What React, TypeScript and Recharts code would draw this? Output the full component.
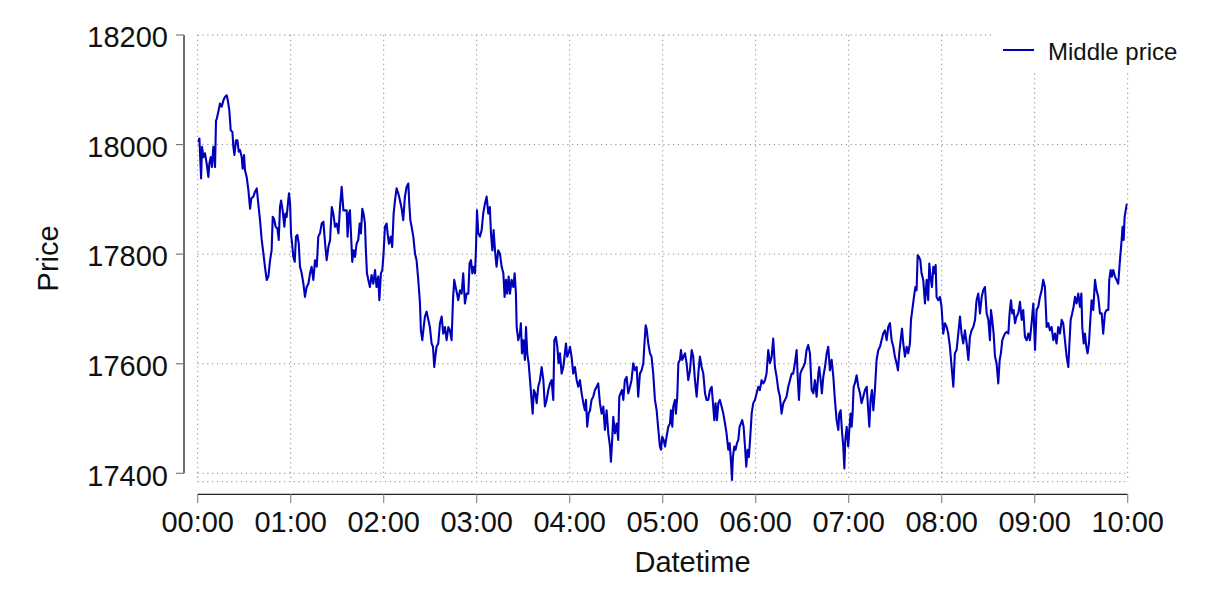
import React from 'react';
import { LineChart, Line, XAxis, YAxis, CartesianGrid, ReferenceLine, Legend, Label } from 'recharts';

const FONT = "'Liberation Sans', Arial, Helvetica, sans-serif";
const LINE_COLOR = '#0000bb';
const TEXT_COLOR = '#111111';

// Axis ticks (x in minutes since 00:00)
const xTicks = [0, 60, 120, 180, 240, 300, 360, 420, 480, 540, 600];
const xTickLabels = ['00:00', '01:00', '02:00', '03:00', '04:00', '05:00', '06:00', '07:00', '08:00', '09:00', '10:00'];
const yTicks = [17400, 17600, 17800, 18000, 18200];
const xDomain = [0, 600];
const yDomain = [17384.7, 18200];

// Offset spine / tick positions expressed in data units
const Y_SPINE_T = -8.84;
const Y_TICK_T = -14.0;
const X_SPINE_P = 17361.7;
const X_TICK_P = 17345.8;

// Middle price readings: [minutes since 00:00, price]
const h00: [number, number][] = [[0,18005],[1.1,18011],[2.2,17938],[2.8,17996],[3.7,17977],[4.7,17984],[5.8,17965],[6.9,17941],[7.5,17965],[8.4,17977],[9.2,17959],[10.1,17996],[11.2,17959],[11.8,18044],[12.3,18047],[13.3,18060],[14.4,18075],[15.5,18069],[16.6,18081],[17.6,18087],[18.7,18090],[19.4,18081],[20.4,18063],[21.3,18026],[22.4,18023],[23.0,17996],[23.7,17981],[24.7,18008],[25.6,18008],[26.5,17987],[27.3,17990],[28.4,17977],[29.0,17956],[29.9,17981],[30.5,17953],[31.6,17941],[32.7,17917],[33.8,17883],[34.6,17902],[35.9,17905],[37.0,17914],[38.1,17920],[39.1,17892],[40.2,17862],[41.3,17826],[42.4,17801],[43.4,17777],[44.5,17753],[45.6,17759],[46.7,17789],[47.7,17807],[48.4,17868],[49.2,17865],[50.3,17850],[51.4,17847],[52.3,17826],[53.1,17886],[53.8,17898],[54.8,17880],[55.9,17850],[56.6,17874],[57.4,17868],[58.3,17895],[58.9,17911],[59.6,17892]];
const h01: [number, number][] = [[60.2,17838],[60.9,17819],[61.7,17795],[62.6,17786],[63.4,17832],[64.3,17835],[65.2,17819],[66.0,17777],[67.1,17765],[68.2,17746],[69.2,17722],[70.3,17740],[71.4,17746],[72.5,17765],[73.5,17777],[74.6,17753],[75.7,17789],[76.8,17777],[77.8,17832],[78.9,17838],[80.0,17856],[81.1,17859],[82.2,17819],[83.2,17789],[84.3,17813],[85.4,17826],[86.5,17886],[87.5,17874],[88.6,17850],[89.7,17856],[90.8,17838],[91.8,17886],[92.9,17923],[94.0,17880],[96.1,17880],[96.7,17832],[97.6,17874],[98.2,17880],[98.9,17838],[99.7,17786],[100.6,17807],[101.5,17795],[102.5,17819],[103.6,17826],[104.5,17856],[105.3,17838],[106.2,17883],[107.0,17874],[107.9,17856],[108.5,17807],[109.2,17765],[110.1,17753],[111.1,17740],[112.2,17762],[113.3,17746],[114.4,17771],[115.4,17740],[116.5,17759],[117.2,17716],[118.2,17765],[119.1,17771],[119.9,17801]];
const h02: [number, number][] = [[120.8,17850],[121.9,17856],[122.5,17838],[123.4,17819],[124.5,17832],[125.5,17813],[126.4,17874],[127.3,17898],[128.3,17920],[129.4,17911],[130.5,17898],[131.6,17883],[132.6,17862],[133.7,17905],[134.8,17923],[135.9,17929],[136.5,17892],[137.2,17862],[138.0,17850],[139.1,17832],[140.2,17801],[141.2,17789],[142.3,17753],[143.4,17710],[144.0,17661],[144.9,17643],[145.8,17667],[146.6,17686],[147.7,17695],[148.8,17680],[149.8,17667],[150.9,17637],[151.8,17631],[152.6,17594],[153.3,17613],[154.1,17631],[155.2,17637],[156.3,17674],[157.4,17686],[158.4,17655],[159.5,17667],[160.6,17643],[161.7,17667],[162.7,17661],[163.8,17643],[164.7,17716],[165.5,17753],[166.4,17740],[167.3,17728],[168.1,17716],[169.2,17734],[170.3,17728],[171.3,17765],[172.4,17710],[173.5,17728],[174.6,17728],[175.4,17783],[176.3,17789],[177.2,17765],[178.0,17777],[178.9,17765],[179.5,17807]];
const h03: [number, number][] = [[180.2,17880],[181.0,17838],[182.1,17832],[183.2,17844],[184.2,17874],[185.3,17892],[186.4,17905],[187.5,17874],[188.5,17886],[189.2,17838],[190.1,17807],[190.9,17844],[191.8,17807],[192.8,17777],[193.9,17807],[195.0,17801],[196.1,17777],[197.2,17765],[198.0,17722],[198.9,17753],[199.7,17728],[200.6,17759],[201.5,17728],[202.5,17753],[203.6,17740],[204.5,17765],[205.3,17728],[205.8,17667],[206.8,17643],[207.9,17655],[208.5,17674],[209.2,17619],[210.1,17643],[211.1,17607],[211.8,17667],[212.6,17619],[213.5,17601],[214.4,17570],[215.4,17534],[216.1,17509],[216.9,17552],[217.8,17546],[218.7,17528],[219.7,17558],[220.8,17570],[221.9,17594],[223.0,17570],[224.0,17522],[225.1,17534],[226.2,17552],[227.3,17564],[228.3,17570],[229.4,17534],[230.1,17643],[231.1,17649],[232.0,17631],[232.8,17601],[233.7,17619],[234.8,17582],[235.9,17594],[236.9,17619],[237.6,17637],[238.4,17613],[239.3,17619]];
const h04: [number, number][] = [[240.2,17631],[241.2,17613],[242.3,17582],[243.4,17594],[244.5,17570],[245.5,17558],[246.6,17570],[247.7,17546],[248.8,17528],[249.8,17515],[250.5,17534],[251.3,17485],[252.2,17509],[253.1,17515],[254.1,17534],[255.2,17540],[256.3,17552],[257.4,17558],[258.4,17564],[259.5,17528],[260.6,17509],[261.7,17522],[262.7,17479],[263.8,17515],[264.9,17473],[266.0,17449],[266.6,17421],[267.3,17455],[268.1,17503],[269.2,17473],[270.3,17491],[271.3,17461],[272.0,17540],[272.8,17546],[273.7,17552],[274.6,17534],[275.6,17570],[276.7,17576],[277.8,17546],[278.9,17558],[279.9,17570],[281.0,17601],[282.1,17588],[283.2,17594],[284.2,17540],[285.3,17582],[286.4,17588],[287.5,17601],[288.1,17631],[289.0,17670],[289.6,17664],[290.7,17637],[291.8,17619],[292.8,17613],[293.9,17582],[295.0,17534],[296.1,17515],[297.2,17479],[298.2,17449],[298.9,17443],[299.7,17467]];
const h05: [number, number][] = [[300.6,17461],[301.5,17449],[302.5,17467],[303.6,17485],[304.7,17491],[305.3,17515],[306.2,17485],[306.8,17522],[307.9,17534],[308.5,17509],[309.4,17540],[310.1,17601],[311.1,17607],[311.8,17625],[312.6,17607],[313.5,17613],[314.4,17619],[315.4,17601],[316.5,17570],[317.6,17588],[318.7,17625],[319.7,17613],[320.8,17570],[321.9,17540],[323.0,17582],[324.0,17613],[325.1,17594],[326.2,17582],[327.3,17546],[328.3,17534],[329.4,17534],[330.5,17552],[331.6,17558],[332.6,17522],[333.3,17497],[334.1,17528],[335.0,17497],[335.9,17528],[336.9,17534],[338.0,17522],[339.1,17509],[340.2,17491],[341.2,17473],[342.3,17443],[343.2,17455],[344.0,17424],[344.7,17388],[345.3,17430],[346.2,17449],[347.0,17443],[347.9,17455],[348.8,17461],[349.6,17485],[350.5,17491],[351.3,17497],[352.2,17485],[353.1,17449],[353.9,17412],[354.8,17443],[355.6,17430],[356.5,17467],[357.4,17509],[358.4,17528],[359.5,17534]];
const h06: [number, number][] = [[360.6,17546],[361.7,17558],[362.7,17552],[363.8,17570],[364.9,17564],[366.0,17570],[367.0,17582],[368.1,17625],[369.2,17601],[370.3,17613],[371.3,17646],[372.4,17594],[373.5,17576],[374.6,17552],[375.6,17540],[376.7,17509],[377.8,17528],[378.9,17534],[379.9,17540],[381.0,17558],[382.1,17570],[383.2,17582],[384.2,17582],[385.3,17601],[386.4,17625],[387.0,17582],[387.9,17534],[388.8,17582],[389.6,17588],[390.7,17594],[391.8,17601],[392.8,17625],[393.9,17634],[395.0,17619],[396.1,17552],[397.2,17546],[398.2,17570],[399.3,17540],[400.4,17582],[401.0,17594],[401.9,17570],[402.7,17546],[403.6,17576],[404.7,17594],[405.8,17619],[406.8,17631],[407.9,17588],[409.0,17607],[410.1,17576],[411.1,17534],[412.2,17497],[413.3,17479],[413.9,17509],[414.8,17515],[415.6,17479],[416.5,17449],[417.2,17409],[417.8,17461],[418.7,17485],[419.7,17449]];
const h07: [number, number][] = [[420.4,17479],[421.2,17509],[421.9,17485],[422.5,17509],[423.2,17558],[424.0,17564],[425.1,17579],[426.2,17558],[427.3,17546],[428.3,17528],[429.4,17540],[430.5,17552],[431.6,17558],[432.6,17515],[433.3,17485],[434.1,17534],[435.0,17552],[435.9,17515],[436.9,17552],[438.0,17607],[439.1,17625],[440.2,17631],[441.2,17643],[442.3,17655],[443.4,17661],[444.5,17643],[445.5,17667],[446.6,17674],[447.7,17643],[448.8,17631],[449.8,17613],[450.9,17601],[451.8,17588],[452.6,17619],[453.5,17643],[454.4,17664],[455.2,17637],[456.3,17613],[457.4,17631],[458.4,17619],[459.5,17637],[460.2,17680],[461.0,17698],[462.1,17722],[463.0,17740],[463.8,17734],[464.5,17798],[465.3,17795],[466.2,17789],[467.0,17765],[468.1,17753],[469.2,17710],[470.3,17753],[471.3,17716],[472.0,17783],[472.8,17759],[473.7,17740],[474.6,17777],[475.4,17765],[476.1,17780],[476.7,17722],[477.8,17716],[478.9,17722],[479.9,17704]];
const h08: [number, number][] = [[481.0,17655],[482.1,17674],[483.2,17667],[484.2,17655],[485.3,17631],[486.4,17594],[487.5,17558],[488.5,17619],[489.6,17625],[490.7,17655],[491.8,17686],[492.8,17655],[493.9,17637],[495.0,17661],[496.1,17637],[497.2,17607],[498.2,17649],[499.3,17661],[500.4,17667],[501.5,17680],[502.5,17716],[503.6,17728],[504.7,17692],[505.8,17722],[506.8,17734],[507.9,17740],[509.0,17692],[510.1,17680],[511.1,17643],[511.8,17698],[512.6,17680],[513.5,17655],[514.4,17613],[515.4,17601],[516.5,17564],[517.4,17607],[518.2,17619],[519.1,17643],[519.9,17649],[520.8,17655],[521.9,17658],[523.0,17655],[523.8,17692],[524.7,17716],[525.5,17692],[526.4,17698],[527.3,17674],[528.3,17686],[529.4,17692],[530.5,17713],[531.6,17680],[532.6,17698],[533.7,17649],[534.8,17643],[535.9,17655],[536.9,17643],[538.0,17674],[539.1,17710]];
const h09: [number, number][] = [[540.2,17625],[541.2,17698],[542.3,17704],[543.4,17722],[544.5,17734],[545.5,17753],[546.6,17740],[547.7,17667],[548.8,17674],[549.8,17661],[550.9,17667],[552.0,17643],[553.1,17655],[554.1,17637],[555.2,17667],[556.3,17655],[557.4,17680],[558.4,17674],[559.5,17643],[560.6,17613],[561.7,17594],[562.3,17631],[563.2,17680],[564.2,17692],[565.1,17704],[566.0,17722],[567.0,17710],[568.1,17728],[569.2,17704],[570.1,17728],[570.7,17667],[571.6,17637],[572.4,17655],[573.3,17631],[574.1,17619],[575.0,17637],[575.9,17680],[576.7,17716],[577.8,17698],[578.9,17753],[579.9,17734],[581.0,17722],[582.1,17692],[583.2,17692],[584.2,17655],[585.3,17692],[586.4,17698],[587.5,17698],[588.1,17753],[589.0,17771],[589.8,17759],[590.7,17771],[591.8,17759],[592.8,17753],[593.9,17746],[595.0,17789],[596.1,17826],[596.7,17850],[597.4,17826],[598.0,17868],[598.7,17880],[599.5,17892]];

const data = [h00, h01, h02, h03, h04, h05, h06, h07, h08, h09]
  .flat()
  .map(([t, price]) => ({ t, price }));

const XTick = (props: any) => {
  const { x, y, payload } = props;
  const i = xTicks.indexOf(payload.value);
  return (
    <text x={x} y={y + 50} textAnchor="middle" fontSize={29} fontFamily={FONT} fill={TEXT_COLOR}>
      {xTickLabels[i]}
    </text>
  );
};

const YTick = (props: any) => {
  const { x, y, payload } = props;
  return (
    <text x={x - 29.7} y={y + 12.3} textAnchor="end" fontSize={29} fontFamily={FONT} fill={TEXT_COLOR}>
      {payload.value}
    </text>
  );
};

const YTitle = (props: any) => {
  const vb = props.viewBox || { x: 0, y: 35, width: 198, height: 447 };
  const cx = vb.x + 58;
  const cy = vb.y + vb.height / 2;
  return (
    <text x={cx} y={cy} transform={`rotate(-90, ${cx}, ${cy})`} textAnchor="middle" fontSize={29} fontFamily={FONT} fill={TEXT_COLOR}>
      Price
    </text>
  );
};

const XTitle = (props: any) => {
  const vb = props.viewBox || { x: 198, y: 482, width: 930, height: 60 };
  const cx = vb.x + vb.width / 2 + 29.8;
  return (
    <text x={cx} y={vb.y + 90} textAnchor="middle" fontSize={29} fontFamily={FONT} fill={TEXT_COLOR}>
      Datetime
    </text>
  );
};

const LegendBox = () => (
  <div style={{ width: 197, height: 42, background: '#ffffff' }}>
    <svg width={197} height={42} style={{ display: 'block' }}>
      <line x1={10} y1={20} x2={41} y2={20} stroke={LINE_COLOR} strokeWidth={2} />
      <text x={55} y={30} fontSize={24} fontFamily={FONT} fill={TEXT_COLOR}>
        Middle price
      </text>
    </svg>
  </div>
);

export default function App() {
  return (
    <div style={{ position: 'absolute', left: 0, top: 0, width: 1224, height: 612, background: '#ffffff' }}>
      <LineChart
        width={1224}
        height={612}
        data={data}
        margin={{ top: 35, right: 96.3, bottom: 70.3, left: 0 }}
      >
        <CartesianGrid stroke="#8a8a8a" strokeDasharray="1.2 3.6" strokeWidth={1} />
        <XAxis
          dataKey="t"
          type="number"
          domain={xDomain}
          ticks={xTicks}
          interval={0}
          height={60}
          tickSize={0}
          tickMargin={0}
          tickLine={false}
          axisLine={false}
          tick={<XTick />}
          allowDataOverflow
        >
          <Label content={<XTitle />} />
        </XAxis>
        <YAxis
          type="number"
          domain={yDomain}
          ticks={yTicks}
          interval={0}
          width={197.7}
          tickSize={0}
          tickMargin={0}
          tickLine={false}
          axisLine={false}
          tick={<YTick />}
          allowDataOverflow
        >
          <Label content={<YTitle />} />
        </YAxis>
        <ReferenceLine
          segment={[{ x: Y_SPINE_T, y: yTicks[0] }, { x: Y_SPINE_T, y: yTicks[yTicks.length - 1] }]}
          stroke="#222222"
          strokeWidth={1.3}
          ifOverflow="visible"
        />
        {yTicks.map((v) => (
          <ReferenceLine
            key={`yt-${v}`}
            segment={[{ x: Y_TICK_T, y: v }, { x: Y_SPINE_T, y: v }]}
            stroke="#7a7a7a"
            strokeWidth={1.2}
            ifOverflow="visible"
          />
        ))}
        <ReferenceLine
          segment={[{ x: xDomain[0], y: X_SPINE_P }, { x: xDomain[1], y: X_SPINE_P }]}
          stroke="#222222"
          strokeWidth={1.3}
          ifOverflow="visible"
        />
        {xTicks.map((t) => (
          <ReferenceLine
            key={`xt-${t}`}
            segment={[{ x: t, y: X_SPINE_P }, { x: t, y: X_TICK_P }]}
            stroke="#8a8a8a"
            strokeWidth={1.2}
            ifOverflow="visible"
          />
        ))}
        <Line
          type="linear"
          dataKey="price"
          name="Middle price"
          stroke={LINE_COLOR}
          strokeWidth={2.1}
          strokeLinejoin="round"
          dot={false}
          activeDot={false}
          isAnimationActive={false}
        />
        <Legend
          layout="vertical"
          align="center"
          verticalAlign="middle"
          content={<LegendBox />}
          wrapperStyle={{ left: 993, top: 30, width: 197, height: 42 }}
        />
      </LineChart>
    </div>
  );
}
